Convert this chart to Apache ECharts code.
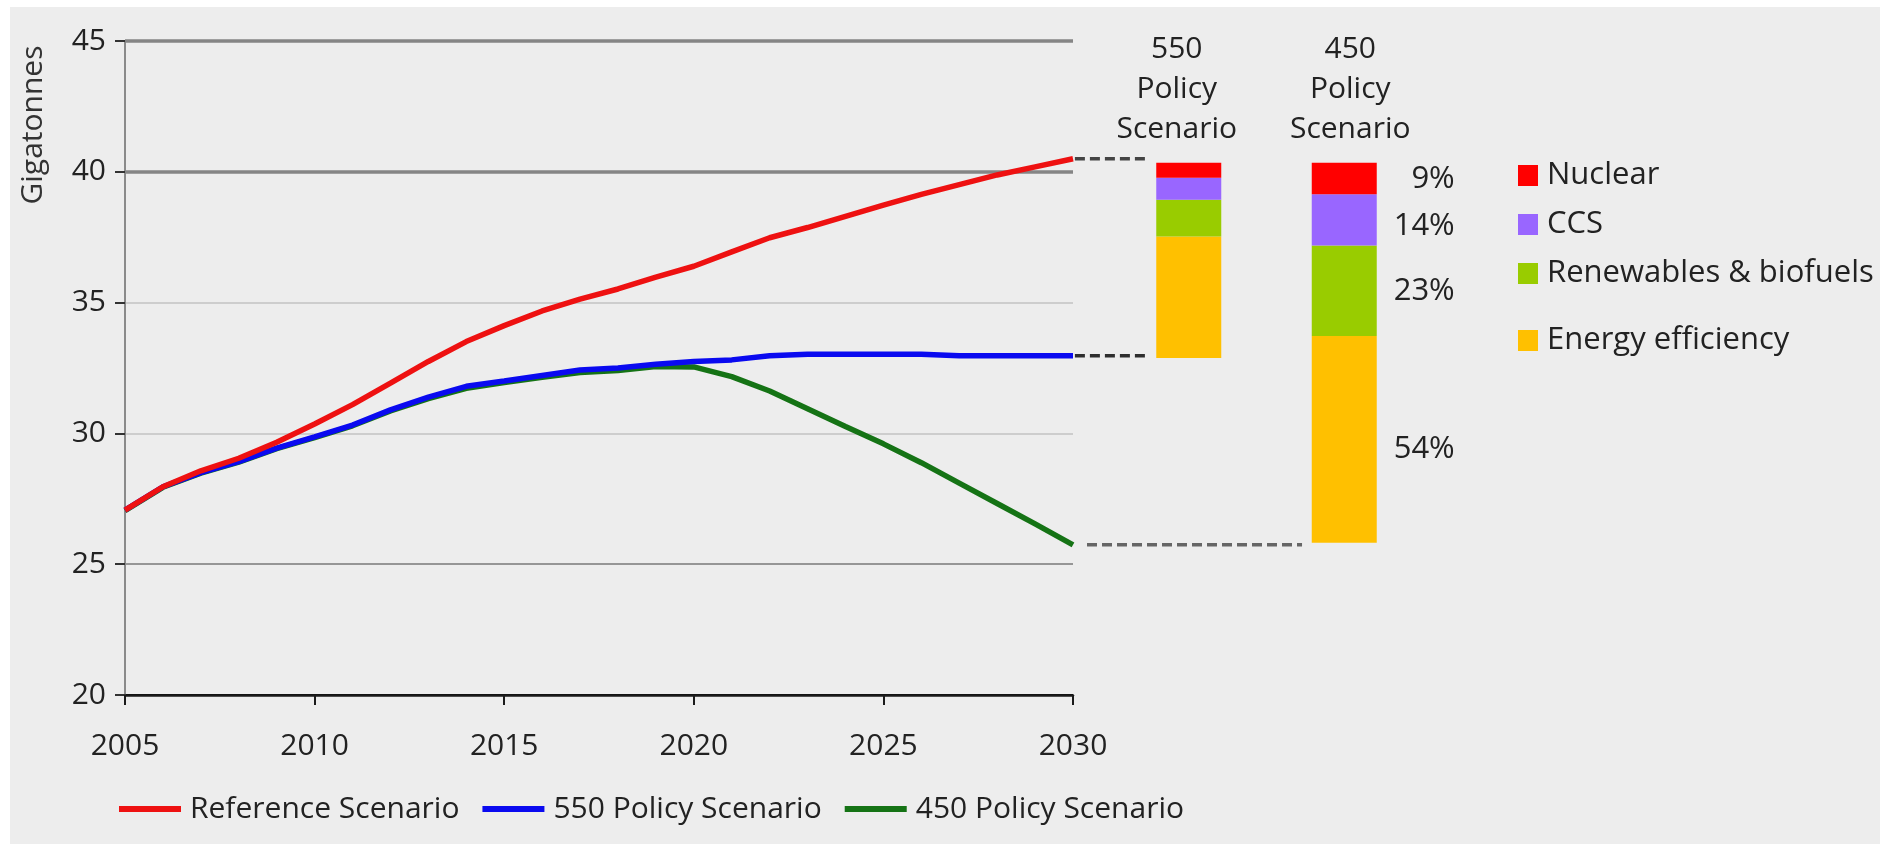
<!DOCTYPE html>
<html><head><meta charset="utf-8">
<script src="https://cdn.jsdelivr.net/npm/echarts@6/dist/echarts.min.js"></script>
<style>html,body{margin:0;padding:0;background:#fff}#c{width:1880px;height:844px}</style>
</head><body><div id="c"></div>
<script>
// ---- data ----
const years = [2005,2006,2007,2008,2009,2010,2011,2012,2013,2014,2015,2016,2017,2018,2019,2020,2021,2022,2023,2024,2025,2026,2027,2028,2029,2030];
const referenceScenario = [27.07,27.96,28.57,29.05,29.66,30.36,31.10,31.92,32.75,33.51,34.12,34.68,35.13,35.52,35.97,36.39,36.94,37.48,37.87,38.30,38.73,39.14,39.51,39.88,40.19,40.50];
const policy550 = [27.07,27.96,28.50,28.92,29.44,29.87,30.32,30.90,31.39,31.80,32.00,32.21,32.42,32.50,32.64,32.75,32.81,32.97,33.03,33.03,33.03,33.03,32.97,32.97,32.97,32.97];
const policy450 = [27.05,27.94,28.48,28.90,29.42,29.84,30.29,30.86,31.33,31.72,31.94,32.15,32.33,32.40,32.56,32.54,32.17,31.62,30.94,30.26,29.60,28.88,28.10,27.32,26.54,25.74];

const scenarioTitles = ['550\nPolicy\nScenario', '450\nPolicy\nScenario'];
const barBase    = [32.88, 25.82];
const efficiency = [4.65, 7.90];
const renewables = [1.40, 3.46];
const ccs        = [0.84, 1.96];
const nuclear    = [0.58, 1.21];
const shares450  = { nuclear: '9%', ccs: '14%', renewables: '23%', efficiency: '54%' };

// x (in years, continuing the time axis) where each dashed connector starts / ends
const connectorRefStart = 2030.05, connectorRefEnd = 2031.93;
const connector450Start = 2030.37, connector450End = 2036.04;

const yMin = 20, yMax = 45, yStep = 5;
const xMin = 2005, xMax = 2030, xStep = 5;
const xExtMax = 2036.25;   // extension of the time scale to the right of the plot

// ---- chart ----
const FONT = 'Open Sans';
const TXT = '#222';
const pairs = (arr) => years.map((y, i) => [y, arr[i]]);
const last = (arr) => arr[arr.length - 1];

const PLOT_L = 125, PLOT_W = 948, PLOT_T = 41, PLOT_H = 654;
const pxPerYear = PLOT_W / (xMax - xMin);

const segLabelNudge = { nuclear: [0, 1], ccs: [0, 6], renewables: [0, 0], efficiency: [0, 10] };
function barData(arr, key) {
  return [arr[0], {
    value: arr[1],
    label: { show: true, formatter: shares450[key], offset: segLabelNudge[key] }
  }];
}
const segLabel = {
  show: false, position: 'right', distance: 78, align: 'right', verticalAlign: 'middle',
  fontSize: 31, fontFamily: FONT, color: TXT
};

const dashStyle = (color) => ({ color: color, width: 3.5, type: [10, 5] });

const option = {
  animation: false,
  backgroundColor: '#ffffff',
  textStyle: { fontFamily: FONT },
  graphic: [
    { type: 'rect', left: 10, top: 7, shape: { width: 1870, height: 837 }, style: { fill: '#ededed' }, z: -100, silent: true },
    { type: 'text', x: 33, y: 125, rotation: Math.PI / 2, silent: true,
      style: { text: 'Gigatonnes', fontSize: 30, fontFamily: FONT, fill: '#333', align: 'center', verticalAlign: 'middle' } }
  ],
  grid: [
    { left: PLOT_L, top: PLOT_T, width: PLOT_W, height: PLOT_H },
    { left: 1111, top: PLOT_T, width: 311, height: PLOT_H },
    { left: PLOT_L + PLOT_W, top: PLOT_T, width: (xExtMax - xMax) * pxPerYear, height: PLOT_H }
  ],
  xAxis: [
    { type: 'value', gridIndex: 0, min: xMin, max: xMax, interval: xStep,
      axisLine: { show: true, lineStyle: { color: '#1a1a1a', width: 2.5 } },
      axisTick: { show: true, length: 10, lineStyle: { color: '#1a1a1a', width: 2 } },
      axisLabel: { fontSize: 30, fontFamily: FONT, color: TXT, margin: 36, formatter: (v) => String(v) },
      splitLine: { show: false } },
    { type: 'category', gridIndex: 1, data: scenarioTitles, position: 'top', offset: -115,
      axisLine: { show: false }, axisTick: { show: false },
      axisLabel: {
        interval: 0, hideOverlap: false,
        margin: 7, color: TXT, fontSize: 30, fontFamily: FONT, lineHeight: 40,
        formatter: (v, i) => v.split('\n').map(s => (i === 0 ? '{l|' : '{r|') + s + '}').join('\n'),
        rich: {
          l: { fontSize: 30, fontFamily: FONT, color: TXT, lineHeight: 40, padding: [0, 24, 0, 0] },
          r: { fontSize: 30, fontFamily: FONT, color: TXT, lineHeight: 40, padding: [0, 0, 0, 12] }
        }
      } },
    { type: 'value', gridIndex: 2, min: xMax, max: xExtMax, show: false, splitLine: { show: false } }
  ],
  yAxis: [
    { type: 'value', gridIndex: 0, min: yMin, max: yMax, interval: yStep,
      axisLine: { show: true, lineStyle: { color: '#8a8a8a', width: 2 } },
      axisTick: { show: true, length: 10, lineStyle: { color: '#333', width: 2 } },
      axisLabel: { fontSize: 30, fontFamily: FONT, color: TXT, margin: 19, padding: [12, 0, 0, 0] },
      splitLine: { show: true, lineStyle: { width: 2, color: ['#000', '#969696', '#cdcdcd', '#cdcdcd', '#858585', '#858585'] } } },
    { type: 'value', gridIndex: 1, min: yMin, max: yMax, show: false, splitLine: { show: false } },
    { type: 'value', gridIndex: 2, min: yMin, max: yMax, show: false, splitLine: { show: false } }
  ],
  legend: [
    { data: ['Reference Scenario', '550 Policy Scenario', '450 Policy Scenario'],
      left: 114, top: 789, icon: 'rect', itemWidth: 62, itemHeight: 6, itemGap: 23,
      textStyle: { fontSize: 30, fontFamily: FONT, color: TXT, padding: [0, 0, 0, 4] } },
    { data: ['Nuclear', 'CCS', 'Renewables & biofuels'], orient: 'vertical',
      left: 1513, top: 155, icon: 'rect', itemWidth: 20, itemHeight: 21, itemGap: 18,
      textStyle: { fontSize: 31, fontFamily: FONT, color: TXT, padding: [0, 0, 0, 4] } },
    { data: ['Energy efficiency'], orient: 'vertical',
      left: 1513, top: 320, icon: 'rect', itemWidth: 20, itemHeight: 21,
      textStyle: { fontSize: 31, fontFamily: FONT, color: TXT, padding: [0, 0, 0, 4] } }
  ],
  series: [
    // dashed connectors (drawn on the extended time scale)
    { name: 'conn-ref', type: 'line', xAxisIndex: 2, yAxisIndex: 2, symbol: 'none', silent: true,
      data: [[connectorRefStart, last(referenceScenario)], [connectorRefEnd, last(referenceScenario)]],
      lineStyle: dashStyle('#444444') },
    { name: 'conn-550', type: 'line', xAxisIndex: 2, yAxisIndex: 2, symbol: 'none', silent: true,
      data: [[connectorRefStart, last(policy550)], [connectorRefEnd, last(policy550)]],
      lineStyle: dashStyle('#2e2e2e') },
    { name: 'conn-450', type: 'line', xAxisIndex: 2, yAxisIndex: 2, symbol: 'none', silent: true,
      data: [[connector450Start, last(policy450)], [connector450End, last(policy450)]],
      lineStyle: dashStyle('#666666') },
    // scenario lines
    { name: '450 Policy Scenario', type: 'line', xAxisIndex: 0, yAxisIndex: 0, symbol: 'none',
      data: pairs(policy450), color: '#157315', lineStyle: { width: 5.5, color: '#157315' } },
    { name: '550 Policy Scenario', type: 'line', xAxisIndex: 0, yAxisIndex: 0, symbol: 'none',
      data: pairs(policy550), color: '#0a0af0', lineStyle: { width: 5.5, color: '#0a0af0' } },
    { name: 'Reference Scenario', type: 'line', xAxisIndex: 0, yAxisIndex: 0, symbol: 'none',
      data: pairs(referenceScenario), color: '#ee1111', lineStyle: { width: 5.5, color: '#ee1111' },
      markLine: { silent: true, z: 1, symbol: ['none', 'none'], label: { show: false },
        lineStyle: { color: '#858585', width: 3.5, type: 'solid' },
        data: [{ yAxis: 40 }, { yAxis: 45 }] } },
    // stacked bars
    { name: 'base', type: 'bar', xAxisIndex: 1, yAxisIndex: 1, stack: 'abate', barWidth: 65, silent: true,
      data: barBase, itemStyle: { color: 'rgba(0,0,0,0)' } },
    { name: 'Energy efficiency', type: 'bar', xAxisIndex: 1, yAxisIndex: 1, stack: 'abate', barWidth: 65,
      data: barData(efficiency, 'efficiency'), itemStyle: { color: '#ffc000' }, label: segLabel },
    { name: 'Renewables & biofuels', type: 'bar', xAxisIndex: 1, yAxisIndex: 1, stack: 'abate', barWidth: 65,
      data: barData(renewables, 'renewables'), itemStyle: { color: '#99cc00' }, label: segLabel },
    { name: 'CCS', type: 'bar', xAxisIndex: 1, yAxisIndex: 1, stack: 'abate', barWidth: 65,
      data: barData(ccs, 'ccs'), itemStyle: { color: '#9966ff' }, label: segLabel },
    { name: 'Nuclear', type: 'bar', xAxisIndex: 1, yAxisIndex: 1, stack: 'abate', barWidth: 65,
      data: barData(nuclear, 'nuclear'), itemStyle: { color: '#ff0000' }, label: segLabel }
  ]
};

const chart = echarts.init(document.getElementById('c'), null, { renderer: 'canvas' });
chart.setOption(option);
</script></body></html>
